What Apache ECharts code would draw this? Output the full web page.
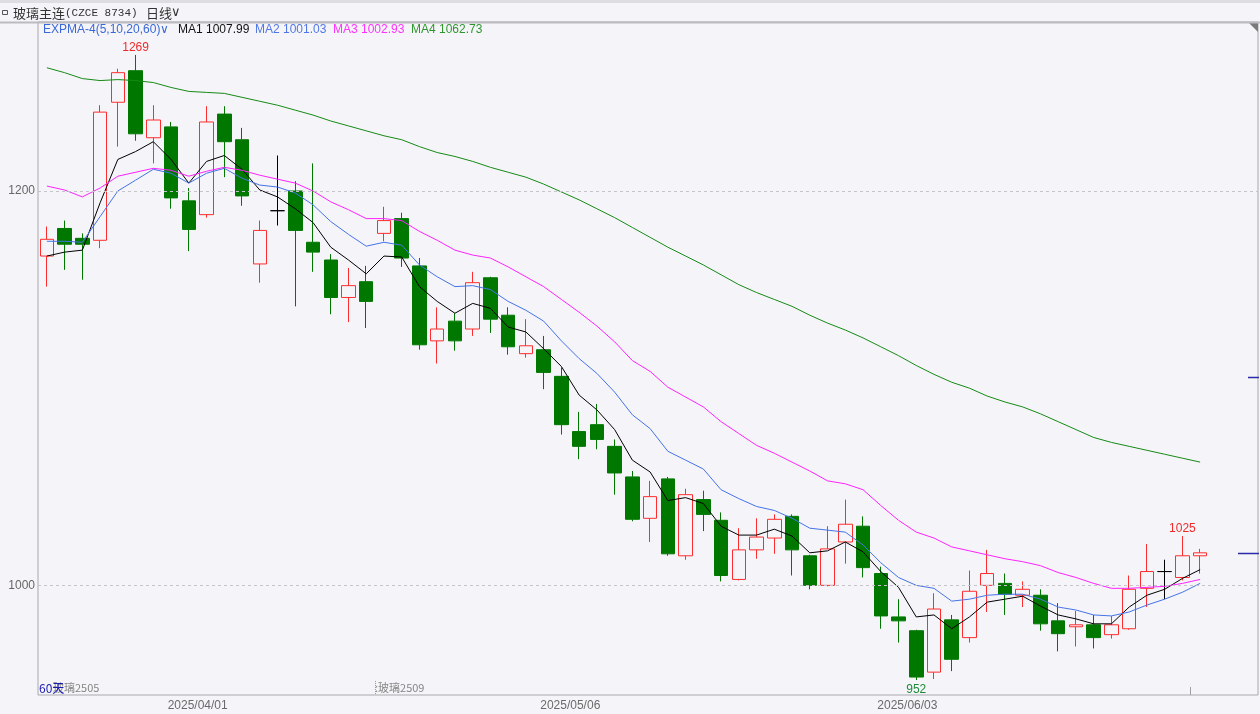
<!DOCTYPE html>
<html>
<head>
<meta charset="utf-8">
<script src="https://cdn.jsdelivr.net/npm/echarts@6/dist/echarts.min.js"></script>
<style>
html,body{margin:0;padding:0;background:#f5f5f9;}
#c{width:1260px;height:714px;}
</style>
</head>
<body>
<div id="c"></div>
<script>
// ---- data ----
const dates = ['2025/03/19','2025/03/20','2025/03/21','2025/03/24','2025/03/25','2025/03/26','2025/03/27','2025/03/28','2025/03/31',
'2025/04/01','2025/04/02','2025/04/03','2025/04/07','2025/04/08','2025/04/09','2025/04/10','2025/04/11','2025/04/14','2025/04/15',
'2025/04/16','2025/04/17','2025/04/18','2025/04/21','2025/04/22','2025/04/23','2025/04/24','2025/04/25','2025/04/28','2025/04/29',
'2025/04/30','2025/05/06','2025/05/07','2025/05/08','2025/05/09','2025/05/12','2025/05/13','2025/05/14','2025/05/15','2025/05/16',
'2025/05/19','2025/05/20','2025/05/21','2025/05/22','2025/05/23','2025/05/26','2025/05/27','2025/05/28','2025/05/29','2025/05/30',
'2025/06/03','2025/06/04','2025/06/05','2025/06/06','2025/06/09','2025/06/10','2025/06/11','2025/06/12','2025/06/13','2025/06/16',
'2025/06/17','2025/06/18','2025/06/19','2025/06/20','2025/06/23','2025/06/24','2025/06/25'];

const opens = [1167,1181,1176,1175,1245,1261,1227,1232.5,1195,1188,
1239,1226,1163,1190,1200,1174,1165,1146,1154,1178.5,
1186,1162,1124,1134,1130,1156,1137,1117.5,1119.5,1106,
1078,1081.5,1070.5,1055,1034,1054,1015,1043.5,1033,1003,
1018,1024,1035,1015,1000,1022,1030,1006,984,977,
956,982.5,973.5,1000,1001,995,995,982,979,980,
975,978,998.5,1007,1004,1015];
const closes = [1175.5,1173,1173,1240,1260,1229,1236,1196.5,1180.5,1235,
1225,1197.5,1180,1190,1180,1169,1146,1152,1144,1185,
1166,1122,1130,1124,1153.5,1135,1121,1121.5,1108,1081.5,
1070.5,1074,1057,1033.5,1045,1016,1046,1036,1005,1018,
1024.5,1033.5,1018,1000,1018.5,1031,1009,984.5,982,953.5,
988,962.5,997,1006,995.5,998,980.5,975.5,980,973.5,
980,998,1007,1007,1015,1016.5];
const lows = [1151.5,1160,1155,1171,1222.5,1225.5,1214,1191,1169.5,1186.5,
1207,1192.5,1153.5,1182.5,1141.5,1159,1137.5,1133.5,1130.5,1174.5,
1161.5,1119.5,1112.5,1119,1126.5,1128,1117,1115.5,1099.5,1076.5,
1064,1069,1046,1032.5,1022,1015,1013,1027.5,1002,1002.5,
1013.5,1016,1005,998,999.5,1011,1004,978,971,952,
952.5,956.5,971,986.5,985,989,977,966.5,969,968,
973,977.5,989,993,1002.5,1006];
const highs = [1182,1185,1178.5,1243.5,1262,1269,1243.5,1235,1201.5,1243,
1243,1232,1185,1218,1205,1214,1168,1161,1162,1192,
1189,1166,1141,1138,1159,1156.5,1141,1135,1126.5,1110.5,
1088,1092,1074,1058,1053,1055,1049,1048,1037,1029,
1034,1036,1036,1015.5,1030,1043.5,1035,1009.5,993,977.5,
996,985,1007.5,1018,1006,1002,998,991,987,985,
984.5,1005,1021,1013,1025,1018.5];

const ma1 = [1167,1169,1170,1194,1216,1220,1225,1216,1204,1215,
1218,1211,1200.5,1197,1191,1184,1171.5,1165,1158,1167,
1166.5,1151.5,1144,1138,1143,1140.5,1131,1128.5,1120,1111,
1096.5,1089,1079,1063.5,1057.5,1043,1044.5,1041.5,1030,1025.5,
1025.5,1028.5,1025,1016.5,1017.5,1022,1017,1007,999,984,
985,978,984,991.5,993,994.5,989.5,985,983,980.5,
980.5,989,995,998,1003.5,1008];
const ma2 = [1174.5,1174.5,1174,1187,1200,1205.5,1211,1209,1204,1209,
1211.5,1206.5,1203,1202,1199,1193,1184.5,1178,1172,1174,
1172.5,1162.5,1156.5,1151.5,1152,1150,1144,1139.5,1134,1124,
1115,1107.5,1098,1086.5,1079.5,1068,1063.5,1059,1048.5,1044,
1040,1038,1034,1029,1028,1027,1020.5,1011.5,1004,1000,
998.5,992,993,995,995.5,995.5,993,989,987.5,985,
984.5,986.5,990,993,996.5,1001];
const ma3 = [1202.5,1200.5,1197,1201.5,1207.5,1209.5,1211.5,1210.5,1207.5,1210,
1212,1210.5,1208,1206,1204,1200,1194.5,1190.5,1186,1186,
1185,1179.5,1175,1170,1167.5,1166,1161.5,1156.5,1151.5,1145,
1138.5,1131.5,1123.5,1114,1108.5,1100.5,1095.5,1090.5,1083,1077,
1071,1067,1062.5,1058,1053,1051.5,1048.5,1040.5,1033,1027,
1024,1019.5,1017.5,1015.5,1013.5,1012,1010,1006.5,1004,1001,
998.5,998.5,999,999.5,1001,1003];
const ma4 = [1262.5,1260,1257,1256,1256.5,1256,1255,1252.5,1250.5,1250,
1249.5,1247.5,1245.5,1243.5,1241,1238.5,1235.5,1233,1230.5,1228,
1226,1222.5,1219.5,1217.5,1215,1212,1209.5,1207,1203.5,1199.5,
1195.5,1191,1186.5,1181.5,1176.5,1171.5,1167,1162.5,1157.5,1152.5,
1148.5,1145,1141.5,1137,1133,1129.5,1125.5,1121,1116.5,1111.5,
1107,1103,1100,1096,1093,1090.5,1087,1083,1079,1075,
1072.5,1070.5,1068.5,1066.5,1064.5,1062.5];

const maNames = ['MA1','MA2','MA3','MA4'];
const maLast = ['1007.99','1001.03','1002.93','1062.73'];
const yTicks = [1000, 1200];
const xTickLabels = ['2025/04/01','2025/05/06','2025/06/03'];
const rightMarks = [1016.5, 1105.5];
const contractLabels = ['玻璃2505', ':玻璃2509'];

// ---- chart ----
const chart = echarts.init(document.getElementById('c'), null, {renderer:'canvas'});
const Y_MIN = 944.4, Y_MAX = 1285.7;
const maColors = ['#000000','#4573e8','#ff22ff','#158a15'];
const legendColors = ['#111111','#4f78e6','#ff33ff','#2f962f'];
const FONT = '"Liberation Sans", Arial, sans-serif';

const candleData = dates.map((d,i)=>[opens[i], closes[i], lows[i], highs[i]]);
const iMax = highs.indexOf(Math.max(...highs));
const iMin = lows.indexOf(Math.min(...lows));
const iLocal = highs.indexOf(1025);
const xTickPos = xTickLabels.map(l => dates.indexOf(l) - 0.5);

const option = {
  animation: false,
  backgroundColor: '#f5f5f9',
  grid: [
    {left:38, top:22, width:1171, height:673, outerBoundsMode:'none', containLabel:false},
    {left:38, top:22, width:1220, height:673, show:true, borderColor:'#a9a9ad', borderWidth:1, backgroundColor:'transparent', outerBoundsMode:'none', containLabel:false}
  ],
  xAxis: [
    {type:'category', gridIndex:0, data:dates, boundaryGap:true, axisLine:{show:false}, axisTick:{show:false}, axisLabel:{show:false}, splitLine:{show:false}},
    {type:'value', gridIndex:0, min:-0.5, max:dates.length-0.5, position:'bottom',
     axisLine:{show:false}, axisTick:{show:false}, splitLine:{show:false},
     axisLabel:{show:true, customValues:xTickPos, margin:5, color:'#6a6a6a', fontSize:12, fontFamily:FONT,
       formatter:(v)=>dates[Math.round(v+0.5)] || ''}},
    {type:'value', gridIndex:1, min:0, max:1, show:false}
  ],
  yAxis: [
    {type:'value', gridIndex:0, min:Y_MIN, max:Y_MAX, axisLine:{show:false}, axisTick:{show:false}, splitLine:{show:false},
     axisLabel:{show:true, customValues:yTicks, margin:3, color:'#666666', fontSize:12, fontFamily:FONT,
       formatter:(v)=>String(v)}},
    {type:'value', gridIndex:1, min:Y_MIN, max:Y_MAX, show:false}
  ],
  series: [
    {type:'line', xAxisIndex:2, yAxisIndex:1, data:[[0, Y_MIN]], symbol:'none', lineStyle:{opacity:0}, silent:true, z:1,
     markLine:{silent:true, symbol:'none', label:{show:false},
       lineStyle:{color:'#c4c4ca', type:[3,3], width:1},
       data: yTicks.map(v=>({yAxis:v}))}},
    {type:'candlestick', xAxisIndex:0, yAxisIndex:0, data:candleData, barWidth:14, z:3,
     itemStyle:{color:'#f5f5f9', color0:'#007800', borderColor:'#ff2d2d', borderColor0:'#007800', borderColorDoji:'#000000', borderWidth:1},
     markPoint:{symbol:'circle', symbolSize:1, itemStyle:{color:'rgba(0,0,0,0)'},
       label:{show:true, fontSize:12, fontFamily:FONT, formatter:'{c}'},
       data:[
         {coord:[dates[iMax], highs[iMax]], value:highs[iMax], label:{position:'top', distance:1, color:'#ee2a2a'}},
         {coord:[dates[iMin], lows[iMin]], value:lows[iMin], label:{position:'bottom', distance:3, color:'#1e8a3a'}},
         {coord:[dates[iLocal], highs[iLocal]], value:highs[iLocal], label:{position:'top', distance:1, color:'#ee2a2a'}}
       ]}},
    ...[ma1,ma2,ma3,ma4].map((d,k)=>({
      type:'line', name:maNames[k], xAxisIndex:0, yAxisIndex:0, data:d, showSymbol:false, symbol:'none',
      smooth:false, z:4, lineStyle:{color:maColors[k], width:1}, silent:true
    }))
  ]
};
chart.setOption(option);

// ---- text overlays / markers ----
function txt(x, y, text, color, size, family, extra){
  return Object.assign({type:'text', x:x, y:y, silent:true, z:10,
    style:{text:text, fill:color, font: size+'px '+family, verticalAlign:'middle', align:'left'}}, extra||{});
}
const g = [];
g.push({type:'rect', shape:{x:0,y:0,width:1260,height:3}, style:{fill:'#dedee2'}, silent:true});
g.push({type:'line', shape:{x1:0,y1:22.5,x2:1260,y2:22.5}, style:{stroke:'#bcbcc0', lineWidth:2}, silent:true, z:9});
g.push({type:'rect', shape:{x:2.5,y:10.5,width:5,height:4}, style:{fill:'none', stroke:'#555', lineWidth:1}, silent:true});
g.push({type:'text', x:13, y:13, silent:true, style:{
  text:'{cn|玻璃主连}{mono|(CZCE 8734)}', verticalAlign:'middle',
  rich:{cn:{fill:'#333', font:'13px "Noto Sans CJK SC"'}, mono:{fill:'#333', font:'11px "Liberation Mono", monospace'}}}});
g.push(txt(146, 13, '日线', '#333', 13, '"Noto Sans CJK SC"'));
g.push(txt(171, 13, '∨', '#333', 13, '"DejaVu Sans"'));
// legend row
g.push(txt(43, 30, 'EXPMA-4(5,10,20,60)', '#3a68d8', 12, FONT));
g.push(txt(160, 30, '∨', '#3a68d8', 12, '"DejaVu Sans"'));
const legendX = [178, 255, 333, 411];
maNames.forEach((n,k)=>{
  g.push(txt(legendX[k], 30, n + ' ' + maLast[k], legendColors[k], 12, FONT));
});
// bottom texts
g.push(txt(53, 688, contractLabels[0], '#858585', 11, '"Noto Sans CJK SC"'));
g.push(txt(39, 688, '60天', '#1a1ab0', 12, '"Noto Sans CJK SC"'));
g.push(txt(375, 688, contractLabels[1], '#858585', 11, '"Noto Sans CJK SC"'));
g.push({type:'line', shape:{x1:375.5,y1:681,x2:375.5,y2:694}, style:{stroke:'#999', lineWidth:1, lineDash:[1,1]}, silent:true});
g.push({type:'line', shape:{x1:1190.5,y1:687,x2:1190.5,y2:695}, style:{stroke:'#a0a0a0', lineWidth:1}, silent:true});
// top-right triangle
g.push({type:'polygon', shape:{points:[[1249,23],[1258,23],[1258,32]]}, style:{fill:'#7a7a7a'}, silent:true});
// right-side price markers
rightMarks.forEach((v,k)=>{
  const py = Math.round(chart.convertToPixel({yAxisIndex:0}, v)) + 0.5;
  const x1 = k===0 ? 1238 : 1248;
  g.push({type:'line', shape:{x1:x1,y1:py,x2:1259,y2:py}, style:{stroke:'#2a2aa8', lineWidth:1.5}, silent:true, z:10});
});
chart.setOption({graphic: g});
</script>
</body>
</html>
